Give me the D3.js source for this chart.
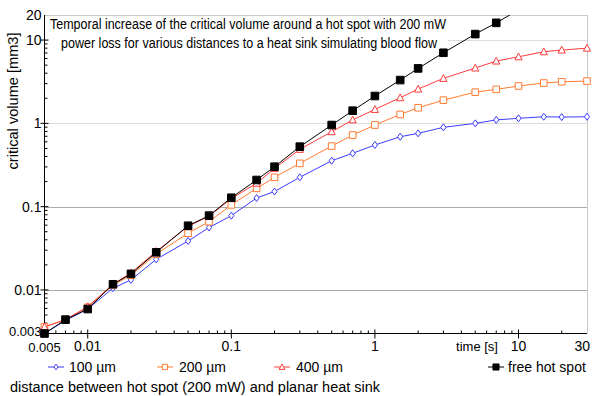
<!DOCTYPE html>
<html><head><meta charset="utf-8">
<script src="https://cdn.jsdelivr.net/npm/d3@7"></script>
<style>body{margin:0;background:#fff}svg{display:block}</style>
</head><body>
<svg id="c" width="593" height="396"></svg>
<script>
const times = [0.005,0.007,0.01,0.015,0.02,0.03,0.05,0.07,0.1,0.15,0.2,0.3,0.5,0.7,1,1.5,2,3,5,7,10,15,20,30];
const vol100 = [0.003,0.0043,0.0059,0.0105,0.0132,0.0233,0.0387,0.0562,0.078,0.127,0.152,0.225,0.356,0.437,0.55,0.691,0.759,0.896,1.0,1.10,1.15,1.2,1.19,1.2];
const vol200 = [0.0036,0.0044,0.0062,0.0115,0.015,0.027,0.048,0.066,0.105,0.166,0.225,0.331,0.534,0.724,0.955,1.28,1.54,1.9,2.37,2.56,2.81,3.05,3.16,3.22];
const vol400 = [0.0036,0.0044,0.0063,0.0117,0.016,0.029,0.058,0.077,0.125,0.191,0.288,0.488,0.794,1.10,1.47,2.03,2.58,3.47,4.62,5.6,6.3,7.24,7.59,8.0];
const volFree = [0.003,0.0044,0.0059,0.0117,0.0156,0.0283,0.059,0.078,0.128,0.209,0.302,0.525,0.955,1.42,2.13,3.31,4.57,7.04,11.8,16.1,23];
const seriesNames = ["100 µm","200 µm","400 µm","free hot spot"];
const yTickLabels = [0.003,0.01,0.1,1,10,20];
const xTickLabels = [0.005,0.01,0.1,1,10,30];
const titleLines = ["Temporal increase of the critical volume around a hot spot with 200 mW","power loss for various distances to a heat sink simulating blood flow"];
const yTitle = "critical volume [mm3]";
const xTitle = "time [s]";
const legendNote = "distance between hot spot (200 mW) and planar heat sink";

const svg = d3.select("#c");
const L = 44.5, R = 587, T = 15, B = 333.5;
const x = d3.scaleLog().domain([0.005,30]).range([L,R]);
const y = d3.scaleLog().domain([0.003,20]).range([B,T]);
const font = "Arial, 'Liberation Sans', sans-serif";

// grid
const grid = [{v:0.01,c:"#aaaaaa"},{v:0.1,c:"#aaaaaa"},{v:1,c:"#dcdcdc"},{v:10,c:"#dcdcdc"}];
svg.append("g").selectAll("line").data(grid).join("line")
  .attr("x1",L).attr("x2",R).attr("y1",d=>Math.round(y(d.v))+0.5).attr("y2",d=>Math.round(y(d.v))+0.5)
  .attr("stroke",d=>d.c).attr("stroke-width",1);
svg.append("path").attr("d",`M${L},${T+0.5}H${R+0.5}V${B}`).attr("fill","none").attr("stroke","#c8c8c8");

// title box
svg.append("rect").attr("x",48).attr("y",17).attr("width",400).attr("height",34).attr("fill","#fff");
svg.append("text").attr("x",248).attr("y",29).attr("text-anchor","middle").attr("font-family",font)
  .attr("font-size",14).attr("textLength",396).attr("lengthAdjust","spacingAndGlyphs").text(titleLines[0]);
svg.append("text").attr("x",249).attr("y",48).attr("text-anchor","middle").attr("font-family",font)
  .attr("font-size",14).attr("textLength",376).attr("lengthAdjust","spacingAndGlyphs").text(titleLines[1]);

// axes lines
svg.append("line").attr("x1",L).attr("x2",L).attr("y1",T).attr("y2",B).attr("stroke","#000");
svg.append("line").attr("x1",L).attr("x2",R).attr("y1",B).attr("y2",B).attr("stroke","#000");

// y ticks
const yMinor = [], yMajor = [0.01,0.1,1,10];
[0.001,0.01,0.1,1,10].forEach(d=>{for(let k=2;k<=9;k++){const v=+(d*k).toPrecision(3); if(v>0.003&&v<20&&!yMajor.includes(v)) yMinor.push(v);}});
svg.append("g").selectAll("line").data(yMinor).join("line")
  .attr("x1",L).attr("x2",L+3).attr("y1",d=>y(d)).attr("y2",d=>y(d)).attr("stroke","#000");
svg.append("g").selectAll("line").data(yMajor).join("line")
  .attr("x1",L-4).attr("x2",L+4).attr("y1",d=>y(d)).attr("y2",d=>y(d)).attr("stroke","#000");
svg.append("g").selectAll("text").data(yTickLabels).join("text")
  .attr("x",L-3).attr("y",d=>d===0.003?y(d)-2:y(d)).attr("dy","0.36em").attr("text-anchor","end")
  .attr("font-family",font).attr("font-size",d=>d===0.003?13:14).text(d=>String(d));

// x ticks
const xMinor = [], xMajor=[0.01,0.1,1,10];
[0.001,0.01,0.1,1,10].forEach(d=>{for(let k=2;k<=9;k++){const v=+(d*k).toPrecision(3); if(v>0.005&&v<30&&!xMajor.includes(v)) xMinor.push(v);}});
svg.append("g").selectAll("line").data(xMinor).join("line")
  .attr("x1",d=>x(d)).attr("x2",d=>x(d)).attr("y1",B).attr("y2",B-3).attr("stroke","#000");
svg.append("g").selectAll("line").data(xMajor).join("line")
  .attr("x1",d=>x(d)).attr("x2",d=>x(d)).attr("y1",B-4).attr("y2",B+5).attr("stroke","#000");
svg.append("g").selectAll("text").data(xTickLabels).join("text")
  .attr("x",d=>d===30?590:x(d)).attr("y",d=>d===0.005?352:351).attr("text-anchor",d=>d===30?"end":"middle")
  .attr("font-family",font).attr("font-size",d=>d===0.005?13:14).text(d=>String(d));
svg.append("text").attr("x",477).attr("y",351).attr("text-anchor","middle").attr("font-family",font)
  .attr("font-size",13).text(xTitle);

// y title
svg.append("text").attr("transform","translate(18,101) rotate(-90)").attr("text-anchor","middle")
  .attr("font-family",font).attr("font-size",14).attr("textLength",137).attr("lengthAdjust","spacingAndGlyphs").text(yTitle);

// series
svg.append("defs").append("clipPath").attr("id","clip").append("rect")
  .attr("x",L-6).attr("y",T).attr("width",R-L+12).attr("height",B-T+6);
const series = [
  {name:seriesNames[0], vals:vol100, color:"#3c3cff", shape:"diamond"},
  {name:seriesNames[1], vals:vol200, color:"#ff7a30", shape:"square"},
  {name:seriesNames[2], vals:vol400, color:"#ff3c3c", shape:"triangle"},
  {name:seriesNames[3], vals:volFree, color:"#000000", shape:"fsquare"}
];
function markerPath(shape, k){
  k = k || 1;
  if(shape==="diamond") return `M0,${-3.5*k}L${2.6*k},0L0,${3.5*k}L${-2.6*k},0Z`;
  if(shape==="square") return `M${-3.3*k},${-3.3*k}H${3.3*k}V${3.3*k}H${-3.3*k}Z`;
  if(shape==="triangle") return `M0,${-3.8*k}L${3.6*k},${3*k}H${-3.6*k}Z`;
  return `M${-3.8*k},${-3.8*k}H${3.8*k}V${3.8*k}H${-3.8*k}Z`;
}
const line = d3.line().x(d=>x(d[0])).y(d=>y(d[1]));
const plot = svg.append("g").attr("clip-path","url(#clip)");
series.forEach(s=>{
  const pts = s.vals.map((v,i)=>[times[i],v]);
  plot.append("path").datum(pts).attr("d",line).attr("fill","none").attr("stroke",s.color).attr("stroke-width",1);
  plot.append("g").selectAll("path").data(pts).join("path")
    .attr("transform",d=>`translate(${x(d[0])},${y(d[1])})`).attr("d",markerPath(s.shape))
    .attr("fill",s.shape==="fsquare"?"#000":"#fff").attr("stroke",s.color).attr("stroke-width",1);
});

// legend
const legX = [56,165,282,496], legTX=[69,179,296,508];
const lg = svg.append("g");
series.forEach((s,i)=>{
  lg.append("line").attr("x1",legX[i]-8).attr("x2",legX[i]+8).attr("y1",367).attr("y2",367).attr("stroke",s.color);
  lg.append("path").attr("transform",`translate(${legX[i]},367)`).attr("d",markerPath(s.shape,0.8))
    .attr("fill",s.shape==="fsquare"?"#000":"#fff").attr("stroke",s.color);
  lg.append("text").attr("x",legTX[i]).attr("y",372).attr("font-family",font)
    .attr("font-size",14).text(s.name);
});
svg.append("text").attr("x",10).attr("y",392).attr("font-family",font)
  .attr("font-size",14).attr("textLength",370).attr("lengthAdjust","spacingAndGlyphs").text(legendNote);
</script>
</body></html>
